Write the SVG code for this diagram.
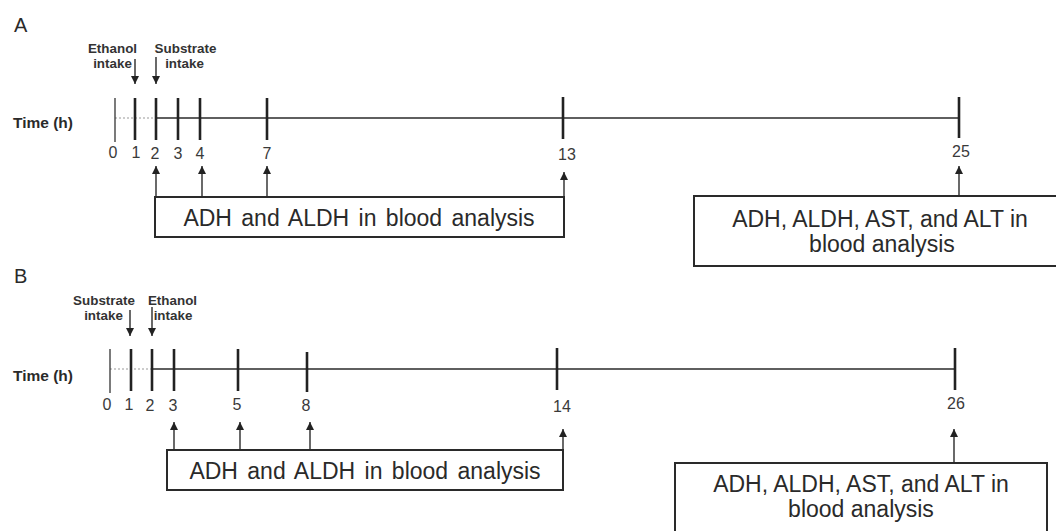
<svg xmlns="http://www.w3.org/2000/svg" width="1056" height="531" viewBox="0 0 1056 531">
<defs>
<style>
.bg{fill:#fff}
.panel{font-family:"Liberation Sans",Arial,sans-serif;font-size:20px;fill:#2a2a2a}
.time{font-family:"Liberation Sans",Arial,sans-serif;font-size:15.5px;font-weight:bold;fill:#2a2a2a}
.evt{font-family:"Liberation Sans",Arial,sans-serif;font-size:13.4px;font-weight:bold;fill:#333;text-anchor:middle}
.num{font-family:"Liberation Sans",Arial,sans-serif;font-size:16px;fill:#3a3a3a;text-anchor:middle}
.boxt{font-family:"Liberation Sans",Arial,sans-serif;font-size:23px;fill:#2a2a2a;text-anchor:middle}
.axis{stroke:#2a2a2a;stroke-width:1.3;fill:none}
.dash{stroke:#999;stroke-width:1.2;stroke-dasharray:2 2;fill:none}
.tick{stroke:#222;stroke-width:2.6;fill:none}
.tick0{stroke:#333;stroke-width:1.3;fill:none}
.box{fill:#fff;stroke:#2a2a2a;stroke-width:2}
.arr{stroke:#2a2a2a;stroke-width:1.4;fill:none;marker-end:url(#ah)}
</style>
<marker id="ah" viewBox="0 0 10 10" refX="10" refY="5" markerWidth="8" markerHeight="8" markerUnits="userSpaceOnUse" orient="auto">
<path d="M0,0 L10,5 L0,10 z" fill="#222"/>
</marker>
</defs>
<rect class="bg" x="0" y="0" width="1056" height="531"/>

<g id="panelA">
<text class="panel" x="14" y="32">A</text>
<text class="time" x="13" y="128">Time (h)</text>
<g id="axisA">
<line class="dash" x1="115" y1="118" x2="156" y2="118"/>
<line class="axis" x1="156" y1="118" x2="959" y2="118"/>
<line class="tick0" x1="115" y1="98" x2="115" y2="142"/>
<line class="tick" x1="135" y1="98" x2="135" y2="140"/>
<line class="tick" x1="156" y1="98" x2="156" y2="140"/>
<line class="tick" x1="178" y1="98" x2="178" y2="140"/>
<line class="tick" x1="200" y1="98" x2="200" y2="140"/>
<line class="tick" x1="267" y1="98" x2="267" y2="140"/>
<line class="tick" x1="563" y1="97" x2="563" y2="139"/>
<line class="tick" x1="959" y1="97" x2="959" y2="138"/>
</g>
<g id="labelsA">
<text class="num" x="113" y="158">0</text>
<text class="num" x="136" y="158">1</text>
<text class="num" x="155" y="159">2</text>
<text class="num" x="178" y="159">3</text>
<text class="num" x="200" y="159">4</text>
<text class="num" x="267" y="159">7</text>
<text class="num" x="567" y="160">13</text>
<text class="num" x="961" y="157">25</text>
</g>
<g id="eventsA">
<text class="evt" x="112.5" y="53">Ethanol</text>
<text class="evt" x="112.5" y="68">intake</text>
<text class="evt" x="185.5" y="53">Substrate</text>
<text class="evt" x="184.5" y="68">intake</text>
</g>
<g id="boxA1">
<rect class="box" x="155" y="197" width="409" height="40"/>
<text class="boxt" x="359" y="226" word-spacing="3">ADH and ALDH in blood analysis</text>
</g>
<g id="boxA2">
<rect class="box" x="694" y="196" width="380" height="70"/>
<text class="boxt" x="880" y="227">ADH, ALDH, AST, and ALT in</text>
<text class="boxt" x="882" y="252">blood analysis</text>
</g>
</g>

<g id="panelB">
<text class="panel" x="14" y="283">B</text>
<text class="time" x="13" y="381">Time (h)</text>
<g id="axisB">
<line class="dash" x1="110" y1="369" x2="151" y2="369"/>
<line class="axis" x1="151" y1="369" x2="955" y2="369"/>
<line class="tick0" x1="110" y1="349" x2="110" y2="393"/>
<line class="tick" x1="131" y1="349" x2="131" y2="391"/>
<line class="tick" x1="152" y1="349" x2="152" y2="391"/>
<line class="tick" x1="174" y1="349" x2="174" y2="391"/>
<line class="tick" x1="238" y1="349" x2="238" y2="391"/>
<line class="tick" x1="307" y1="352" x2="307" y2="392"/>
<line class="tick" x1="557" y1="348" x2="557" y2="390"/>
<line class="tick" x1="955" y1="348" x2="955" y2="390"/>
</g>
<g id="labelsB">
<text class="num" x="107" y="410">0</text>
<text class="num" x="129" y="410">1</text>
<text class="num" x="150" y="411">2</text>
<text class="num" x="173" y="411">3</text>
<text class="num" x="237" y="410">5</text>
<text class="num" x="306" y="411">8</text>
<text class="num" x="562" y="412">14</text>
<text class="num" x="956" y="409">26</text>
</g>
<g id="eventsB">
<text class="evt" x="104" y="305">Substrate</text>
<text class="evt" x="103.5" y="320">intake</text>
<text class="evt" x="172.5" y="305">Ethanol</text>
<text class="evt" x="173" y="320">intake</text>
</g>
<g id="boxB1">
<rect class="box" x="167" y="450" width="396" height="40"/>
<text class="boxt" x="365" y="479" word-spacing="3">ADH and ALDH in blood analysis</text>
</g>
<g id="boxB2">
<rect class="box" x="675" y="463" width="372" height="90"/>
<text class="boxt" x="861" y="492">ADH, ALDH, AST, and ALT in</text>
<text class="boxt" x="861" y="517">blood analysis</text>
</g>
</g>

<g id="connectors">
<line class="arr" x1="135" y1="59" x2="135" y2="84"/>
<line class="arr" x1="156" y1="57" x2="156" y2="84"/>
<line class="arr" x1="156" y1="197" x2="156" y2="166"/>
<line class="arr" x1="202" y1="197" x2="202" y2="166"/>
<line class="arr" x1="267" y1="197" x2="267" y2="166"/>
<line class="arr" x1="564" y1="197" x2="564" y2="172"/>
<line class="arr" x1="959" y1="196" x2="959" y2="166"/>
<line class="arr" x1="130" y1="310" x2="130" y2="336"/>
<line class="arr" x1="152" y1="307" x2="152" y2="336"/>
<line class="arr" x1="174" y1="450" x2="174" y2="422"/>
<line class="arr" x1="240" y1="450" x2="240" y2="422"/>
<line class="arr" x1="310" y1="450" x2="310" y2="422"/>
<line class="arr" x1="563" y1="450" x2="563" y2="429"/>
<line class="arr" x1="954" y1="463" x2="954" y2="429"/>
</g>
</svg>
